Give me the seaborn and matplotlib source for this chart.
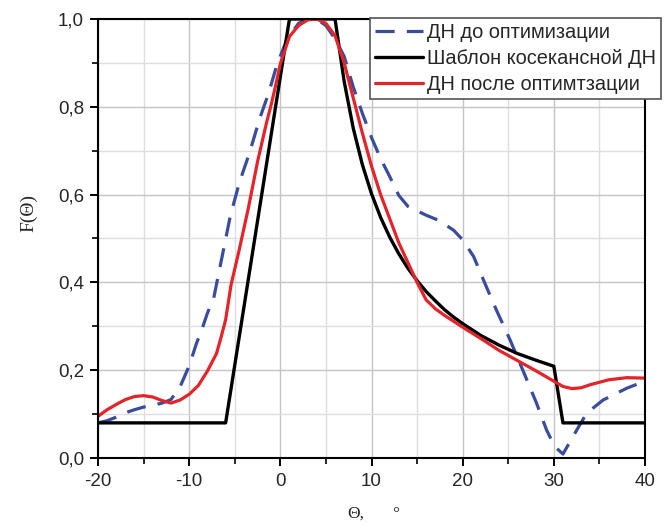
import matplotlib
matplotlib.use("Agg")
import matplotlib.pyplot as plt
from matplotlib.ticker import MultipleLocator, FixedLocator
import seaborn as sns
import pandas as pd

# Diagram before optimisation (dashed)
theta_before = [-20, -19, -18, -17, -16, -15, -14, -13, -12, -11, -10, -9.2, -8.6, -8,
                -7.3, -6.2, -5.5, -4.5, -3.4, -2.25, -1.3, -0.4, 0.75, 2, 3, 4, 5, 6, 7,
                8, 9, 10, 11, 12, 13, 14, 16, 17.3, 19, 20, 21.2, 22.6, 23.7, 25.2, 26.6,
                28.1, 29.2, 30.1, 31, 32.1, 33.6, 35.4, 38, 40]
f_before = [0.08, 0.085, 0.093, 0.103, 0.11, 0.116, 0.12, 0.125, 0.133, 0.162, 0.21, 0.261,
            0.293, 0.33, 0.365, 0.478, 0.55, 0.627, 0.694, 0.774, 0.83, 0.894, 0.955, 0.99,
            1.0, 1.0, 0.985, 0.955, 0.915, 0.845, 0.785, 0.73, 0.682, 0.641, 0.598, 0.573,
            0.553, 0.542, 0.519, 0.497, 0.459, 0.39, 0.337, 0.269, 0.2, 0.125, 0.064, 0.026,
            0.009, 0.049, 0.102, 0.132, 0.159, 0.175]

# Cosecant template
theta_mask = [-20, -6, 1, 6, 7, 8, 9, 10, 11, 12, 13, 14, 15, 16, 17, 18, 19, 20, 22, 24,
              26, 28, 30, 31, 40]
f_mask = [0.08, 0.08, 1.0, 1.0, 0.858, 0.751, 0.668, 0.602, 0.548, 0.503, 0.465, 0.432,
          0.404, 0.379, 0.358, 0.338, 0.321, 0.306, 0.279, 0.257, 0.238, 0.223, 0.209,
          0.08, 0.08]

# Diagram after optimisation
theta_after = [-20, -19, -18, -17, -16, -15, -14, -13, -12, -11, -10, -9, -8, -7, -6.5, -6,
               -5.4, -4.5, -3.5, -2.5, -1.5, -1, -0.5, 0, 1, 2, 3, 4, 5, 6, 7, 8, 9, 10, 11,
               12, 13, 14, 15, 16, 17, 18, 20, 22, 24, 26, 28, 30, 31, 32, 33, 34, 36, 38, 40]
f_after = [0.095, 0.11, 0.122, 0.133, 0.14, 0.142, 0.139, 0.131, 0.125, 0.132, 0.145, 0.165,
           0.198, 0.238, 0.275, 0.315, 0.395, 0.475, 0.57, 0.675, 0.765, 0.805, 0.85, 0.898,
           0.96, 0.985, 0.998, 1.0, 0.99, 0.962, 0.90, 0.82, 0.74, 0.665, 0.60, 0.545, 0.49,
           0.445, 0.40, 0.36, 0.34, 0.325, 0.298, 0.272, 0.245, 0.222, 0.199, 0.175, 0.163,
           0.158, 0.16, 0.167, 0.178, 0.183, 0.182]

labels = ["ДН до оптимизации", "Шаблон косекансной ДН", "ДН после оптимтзации"]
y_tick_values = [0.0, 0.2, 0.4, 0.6, 0.8, 1.0]
y_tick_labels = ["0,0", "0,2", "0,4", "0,6", "0,8", "1,0"]
x_tick_values = [-20, -10, 0, 10, 20, 30, 40]
x_tick_labels = ["-20", "-10", "0", "10", "20", "30", "40"]

sns.set_style("white")
plt.rcParams["font.family"] = ["Liberation Sans", "DejaVu Sans"]
serif = ["Liberation Serif", "DejaVu Serif"]

fig = plt.figure(figsize=(6.65, 5.25), dpi=100)
ax = fig.add_axes([98 / 665, 67 / 525, 547 / 665, 439 / 525])

df_before = pd.DataFrame({"theta": theta_before, "F": f_before})
df_mask = pd.DataFrame({"theta": theta_mask, "F": f_mask})
df_after = pd.DataFrame({"theta": theta_after, "F": f_after})

sns.lineplot(data=df_before, x="theta", y="F", ax=ax, color="#3a4c9e", lw=2.3,
             sort=False, label=labels[0])
ax.lines[-1].set_dashes((6, 3.8))
sns.lineplot(data=df_mask, x="theta", y="F", ax=ax, color="black", lw=2.4,
             sort=False, label=labels[1])
sns.lineplot(data=df_after, x="theta", y="F", ax=ax, color="#e3242b", lw=2.3,
             sort=False, label=labels[2])

ax.set_xlim(-20, 40)
ax.set_ylim(0, 1.0)
ax.xaxis.set_major_locator(FixedLocator(x_tick_values))
ax.set_xticklabels(x_tick_labels)
ax.xaxis.set_minor_locator(MultipleLocator(5))
ax.yaxis.set_major_locator(FixedLocator(y_tick_values))
ax.set_yticklabels(y_tick_labels)
ax.yaxis.set_minor_locator(MultipleLocator(0.1))

ax.grid(which="major", color="#c4c4c4", lw=1.0)
ax.grid(which="minor", color="#dedede", lw=1.0)
ax.set_axisbelow(True)

ax.tick_params(which="major", direction="out", length=6, width=1.4,
               color="black", left=True, bottom=True, pad=4)
ax.tick_params(axis="x", which="major", labelsize=13.5, pad=5)
ax.tick_params(axis="y", which="major", labelsize=13.5, pad=4)
ax.tick_params(which="minor", direction="out", length=4, width=1.2,
               color="black", left=True, bottom=True)
for side in ["left", "bottom", "right", "top"]:
    ax.spines[side].set_color("black")
    ax.spines[side].set_linewidth(1.5)
    ax.spines[side].set_visible(True)

ax.set_xlabel("")
ax.set_ylabel("F(Θ)", fontsize=14, family=serif)
ax.yaxis.set_label_coords(-0.11, 0.558)

# Axis title under the plot
fig.text(347 / 665, 0.006, "Θ,", ha="left", va="bottom", fontsize=12.5, family=serif)
fig.text(396 / 665, 0.006, "°", ha="center", va="bottom", fontsize=12.5, family=serif)

leg = ax.legend(loc="upper left", bbox_to_anchor=(370 / 665, 1 - 18 / 525),
                bbox_transform=fig.transFigure, borderaxespad=0, frameon=True,
                fancybox=False, fontsize=14.4, handlelength=2.4, handletextpad=0.2,
                labelspacing=0.36, borderpad=0.25)
leg.get_frame().set_edgecolor("#555555")
leg.get_frame().set_linewidth(1.2)
leg.get_frame().set_alpha(1.0)

fig.savefig("out.png", dpi=100)
